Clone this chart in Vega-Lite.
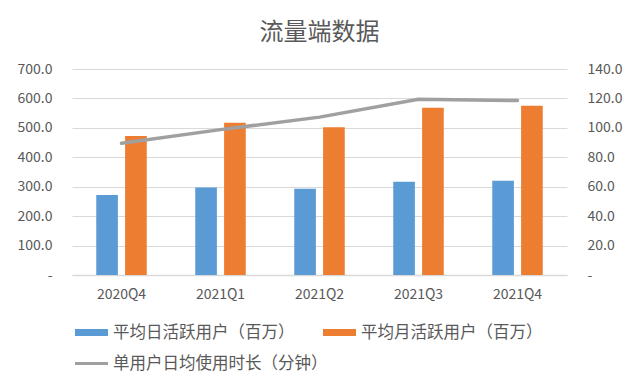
{
  "$schema": "https://vega.github.io/schema/vega-lite/v6.json",
  "autosize": {"type": "none"},
  "padding": {"left": 72, "top": 69, "right": 73, "bottom": 111},
  "width": 495,
  "height": 206,
  "background": "white",
  "title": {
    "text": "流量端数据",
    "fontSize": 24,
    "font": "Noto Sans CJK SC",
    "fontWeight": "normal",
    "color": "#595959",
    "anchor": "middle",
    "frame": "group",
    "offset": 17
  },
  "config": {
    "font": "Noto Sans CJK SC",
    "view": {"stroke": null},
    "axis": {"labelFont": "Noto Sans CJK SC", "labelColor": "#595959", "labelFontSize": 14},
    "legend": {"labelFont": "Noto Sans CJK SC"}
  },
  "data": {
    "values": [
      {"q": "2020Q4", "series": "平均日活跃用户（百万）", "value": 272},
      {"q": "2020Q4", "series": "平均月活跃用户（百万）", "value": 472},
      {"q": "2020Q4", "series": "单用户日均使用时长（分钟）", "value": 89.5},
      {"q": "2021Q1", "series": "平均日活跃用户（百万）", "value": 297},
      {"q": "2021Q1", "series": "平均月活跃用户（百万）", "value": 517},
      {"q": "2021Q1", "series": "单用户日均使用时长（分钟）", "value": 98.8},
      {"q": "2021Q2", "series": "平均日活跃用户（百万）", "value": 293},
      {"q": "2021Q2", "series": "平均月活跃用户（百万）", "value": 502},
      {"q": "2021Q2", "series": "单用户日均使用时长（分钟）", "value": 107.3},
      {"q": "2021Q3", "series": "平均日活跃用户（百万）", "value": 317},
      {"q": "2021Q3", "series": "平均月活跃用户（百万）", "value": 568},
      {"q": "2021Q3", "series": "单用户日均使用时长（分钟）", "value": 119.4},
      {"q": "2021Q4", "series": "平均日活跃用户（百万）", "value": 320},
      {"q": "2021Q4", "series": "平均月活跃用户（百万）", "value": 575},
      {"q": "2021Q4", "series": "单用户日均使用时长（分钟）", "value": 118.6}
    ]
  },
  "encoding": {
    "x": {
      "field": "q",
      "type": "nominal",
      "sort": null,
      "scale": {"paddingInner": 0.49, "paddingOuter": 0.245},
      "axis": {
        "title": null,
        "labelAngle": 0,
        "ticks": false,
        "tickSize": 0,
        "labelPadding": 12,
        "domainColor": "#d9d9d9",
        "domainWidth": 1.5,
        "grid": false
      }
    },
    "color": {
      "field": "series",
      "type": "nominal",
      "scale": {
        "domain": ["平均日活跃用户（百万）", "平均月活跃用户（百万）", "单用户日均使用时长（分钟）"],
        "range": ["#5B9BD5", "#ED7D31", "#A0A0A0"]
      },
      "legend": {
        "title": null,
        "orient": "none",
        "legendX": 3,
        "legendY": 247,
        "direction": "horizontal",
        "columns": 2,
        "gridAlign": "none",
        "columnPadding": -5,
        "rowPadding": 6,
        "labelFontSize": 16.5,
        "labelColor": "#595959",
        "labelLimit": 400,
        "labelOffset": 5,
        "symbolSize": 1089,
        "symbolType": "M-1,-0.21H1V0.21H-1Z",
        "symbolStrokeWidth": 0,
        "encode": {
          "symbols": {
            "update": {
              "shape": {"signal": "datum.value === '单用户日均使用时长（分钟）' ? 'M-1,-0.09H1V0.09H-1Z' : 'M-1,-0.21H1V0.21H-1Z'"},
              "fill": {"scale": "color", "field": "value"},
              "fillOpacity": {"value": 1},
              "strokeWidth": {"value": 0}
            }
          }
        }
      }
    }
  },
  "layer": [
    {
      "transform": [{"filter": "datum.series !== '单用户日均使用时长（分钟）'"}],
      "mark": {"type": "bar"},
      "encoding": {
        "xOffset": {
          "field": "series",
          "type": "nominal",
          "sort": ["平均日活跃用户（百万）", "平均月活跃用户（百万）"],
          "scale": {"paddingInner": 0.25, "paddingOuter": 0}
        },
        "y": {
          "field": "value",
          "type": "quantitative",
          "scale": {"domain": [0, 700], "nice": false},
          "axis": {
            "title": null,
            "values": [0, 100, 200, 300, 400, 500, 600, 700],
            "labelExpr": "datum.value === 0 ? '-\u00a0\u00a0\u00a0\u00a0' : format(datum.value, '.1f')",
            "grid": true,
            "gridColor": "#d9d9d9",
            "gridWidth": 1.2,
            "domain": false,
            "ticks": false,
            "tickSize": 0,
            "labelPadding": 20
          }
        }
      }
    },
    {
      "transform": [{"filter": "datum.series === '单用户日均使用时长（分钟）'"}],
      "mark": {"type": "line", "strokeWidth": 3.5, "strokeCap": "round"},
      "encoding": {
        "y": {
          "field": "value",
          "type": "quantitative",
          "scale": {"domain": [0, 140], "nice": false},
          "axis": {
            "title": null,
            "orient": "right",
            "values": [0, 20, 40, 60, 80, 100, 120, 140],
            "labelExpr": "datum.value === 0 ? '-' : format(datum.value, '.1f')",
            "grid": false,
            "domain": false,
            "ticks": false,
            "tickSize": 0,
            "labelPadding": 20
          }
        }
      }
    }
  ],
  "resolve": {"scale": {"y": "independent"}}
}
